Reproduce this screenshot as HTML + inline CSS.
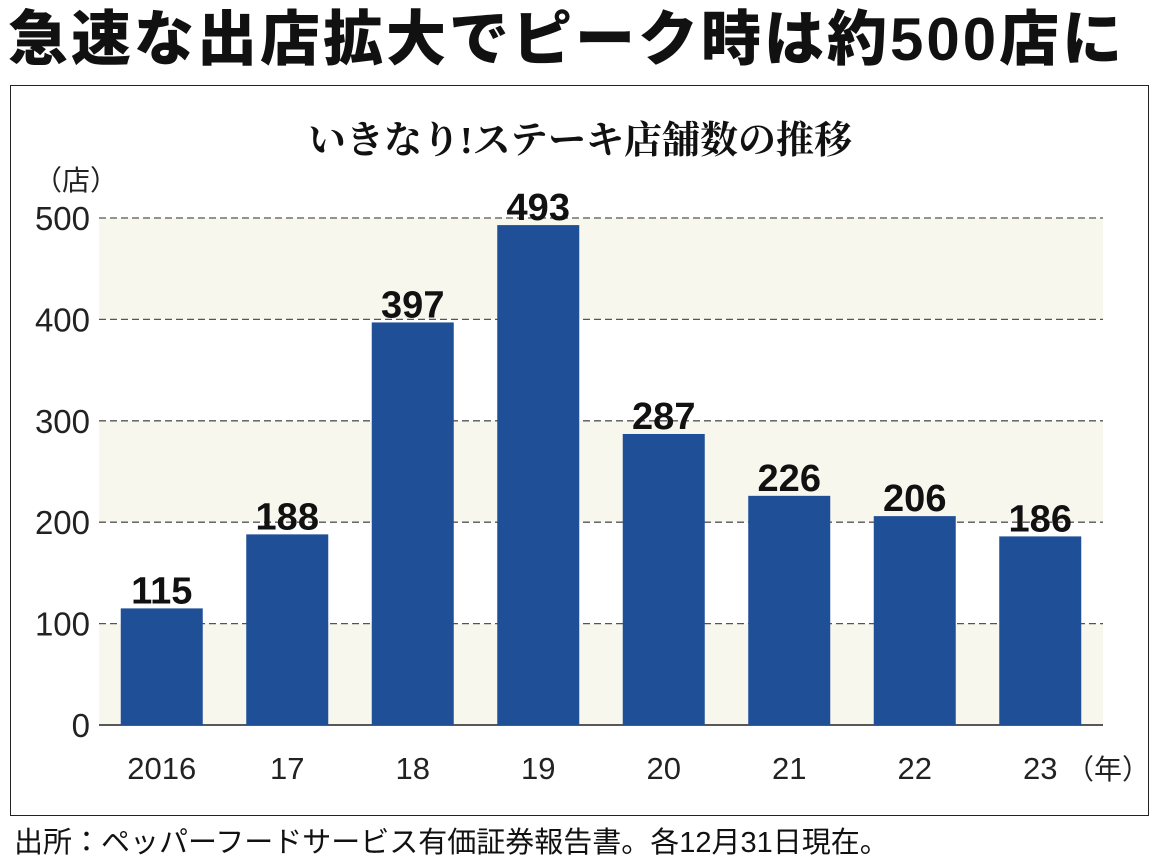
<!DOCTYPE html>
<html><head><meta charset="utf-8"><style>
body{margin:0;background:#fff;width:1160px;height:867px;overflow:hidden;font-family:"Liberation Sans","Noto Sans CJK JP",sans-serif}
#h{position:absolute;left:8px;top:0;font-size:60px;font-weight:900;letter-spacing:3px;line-height:80px;color:#111;white-space:nowrap}
#box{position:absolute;left:10px;top:85px;width:1137px;height:729px;border:1.5px solid #222}
#src{position:absolute;left:14px;top:819px;font-size:29px;color:#111;white-space:nowrap}
</style></head><body>
<div id="h">急速な出店拡大でピーク時は約500店に</div>
<div id="box"></div>
<svg id="c" width="1160" height="867" style="position:absolute;left:0;top:0"></svg>
<div id="src">出所：ペッパーフードサービス有価証券報告書。各12月31日現在。</div>
<script>
const categories=["2016","17","18","19","20","21","22","23"];
const values=[115,188,397,493,287,226,206,186];
const ticks=[0,100,200,300,400,500];
const NS="http://www.w3.org/2000/svg",svg=document.getElementById('c');
const x0=99,x1=1103,y0=725,yTop=218;
const y=v=>y0-(v/500)*(y0-yTop);
const step=(x1-x0)/categories.length;
const xc=i=>x0+step*(i+0.5);
function mk(t,a,txt){const e=document.createElementNS(NS,t);for(const k in a)e.setAttribute(k,a[k]);if(txt!=null)e.textContent=txt;svg.appendChild(e);return e;}
let e=mk('text',{x:580,y:153,'text-anchor':'middle','font-size':38,'font-weight':'bold','font-family':'"Liberation Serif","Noto Serif CJK SC",serif',fill:'#111'},'いきなり!ステーキ店舗数の推移');

e=mk('text',{x:34,y:190,'font-size':28,fill:'#222'},'（店）');

for(let i=0;i<ticks.length-1;i+=2){
  e=mk('rect',{x:x0,y:y(ticks[i+1]),width:x1-x0,height:y(ticks[i])-y(ticks[i+1]),fill:'#f8f7ee'});
  
}
e=mk('rect',{x:x0,y:y(500),width:x1-x0,height:y(400)-y(500),fill:'#f8f7ee'});

ticks.forEach(t=>{
  if(t>0){e=mk('line',{x1:x0,x2:x1,y1:y(t),y2:y(t),stroke:'#555','stroke-width':1.3,'stroke-dasharray':'7,4'});
  }
  e=mk('text',{x:90,y:y(t)+12,'text-anchor':'end','font-size':33,fill:'#222'},t);
  
});
e=mk('line',{x1:x0,x2:x1,y1:y0,y2:y0,stroke:'#222','stroke-width':1.5});

values.forEach((v,i)=>{
  e=mk('rect',{x:xc(i)-41,y:y(v),width:82,height:y0-y(v),fill:'#1f4f97'});
  
  e=mk('text',{x:xc(i),y:y(v)-5,'text-anchor':'middle','font-size':38,'font-weight':'bold',fill:'#111'},v);
  
  e=mk('text',{x:xc(i),y:779,'text-anchor':'middle','font-size':31,fill:'#222'},categories[i]);
  
});
e=mk('text',{x:1066,y:779,'font-size':28,fill:'#222'},'（年）');

</script>
</body></html>
